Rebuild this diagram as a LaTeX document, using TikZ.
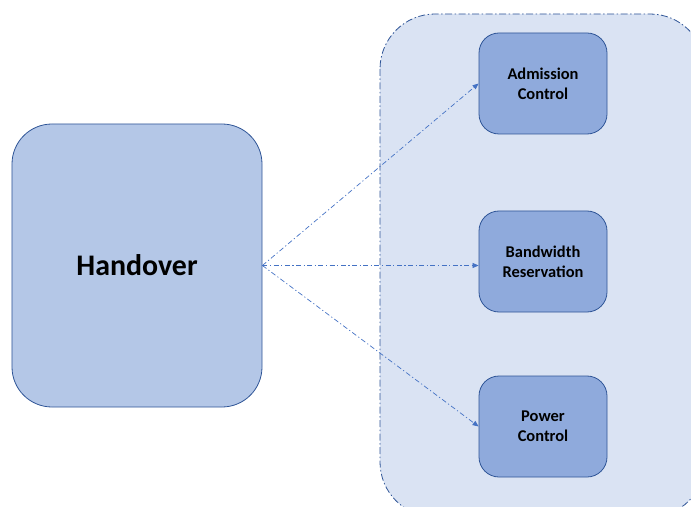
\documentclass[tikz,border=0pt]{standalone}
\usepackage{fontspec}
\setmainfont{Carlito}
\usetikzlibrary{arrows.meta}
\definecolor{hofill}{HTML}{B4C7E7}
\definecolor{contfill}{HTML}{DAE3F3}
\definecolor{boxfill}{HTML}{8FAADC}
\definecolor{edge}{HTML}{2F5597}
\definecolor{arr}{HTML}{4472C4}
\begin{document}
\begin{tikzpicture}[x=1bp,y=-1bp,
  bigbox/.style={draw=edge,fill=hofill,line width=0.8bp,rounded corners=40bp,minimum width=250bp,minimum height=283bp,inner sep=0pt,font=\bfseries\fontsize{30}{36}\selectfont},
  smallbox/.style={draw=edge,fill=boxfill,line width=0.8bp,rounded corners=20bp,minimum width=128bp,minimum height=101bp,inner sep=0pt,align=center,font=\bfseries\fontsize{16.5}{20}\selectfont},
  link/.style={draw=arr,line width=0.7bp,dash pattern=on 5bp off 2.5bp on 1.2bp off 2.5bp,-{Triangle[length=6bp,width=5bp]}}]
\useasboundingbox (0,0) rectangle (691,507);
\begin{scope}
\clip (0,0) rectangle (691,507);
\draw[fill=contfill,draw=edge,line width=0.8bp,rounded corners=55bp,dash pattern=on 7bp off 2.5bp on 1.5bp off 2.5bp] (380,14) rectangle (705,517);
\end{scope}
\node[bigbox] (ho) at (137,265.5) {Handover};
\node[smallbox] (ac) at (543,83.5) {Admission\\Control};
\node[smallbox] (bw) at (543,261.5) {Bandwidth\\Reservation};
\node[smallbox] (pc) at (543,426.5) {Power\\Control};
\coordinate (src) at (ho.east);
\draw[link] (src) -- (ac.west);
\draw[link] (src) -- (bw.west |- src);
\draw[link] (src) -- (pc.west);
\end{tikzpicture}
\end{document}
